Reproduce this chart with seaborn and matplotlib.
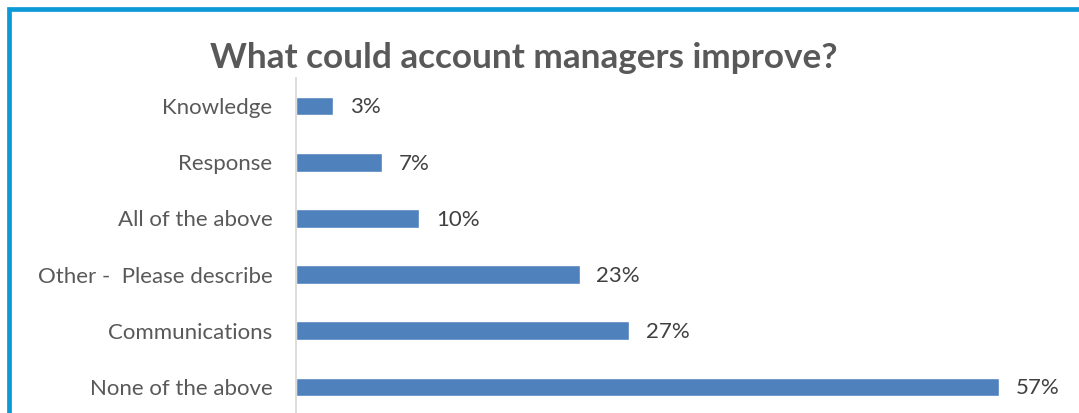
import matplotlib
matplotlib.use("Agg")
import matplotlib.pyplot as plt
import seaborn as sns
import pandas as pd
from matplotlib.patches import Rectangle

categories = ["Knowledge", "Response", "All of the above",
              "Other -  Please describe", "Communications", "None of the above"]
shares = [3, 7, 10, 23, 27, 57]
value_labels = ["3%", "7%", "10%", "23%", "27%", "57%"]
title = "What could account managers improve?"

sns.set_theme(style="white")
plt.rcParams["font.family"] = ["Lato", "DejaVu Sans"]

W, H = 1079, 413
fig = plt.figure(figsize=(W / 100, H / 100), dpi=100)
fig.patch.set_facecolor("white")

# blue frame around the chart area (extends past the right and bottom edges)
frame = Rectangle((9 / W, -0.2), 1.5, 1.2 - 9 / H,
                  transform=fig.transFigure, fill=False,
                  edgecolor="#0C9AD6", linewidth=3.4, zorder=0)
fig.patches.append(frame)

ax = fig.add_axes([296 / W, -2 / H, (1036 - 296) / W, (415 - 78) / H])
df = pd.DataFrame({"category": categories, "share": shares})
sns.barplot(data=df, x="share", y="category", order=categories,
            color="#4F81BD", saturation=1, width=0.33, ax=ax, orient="h")

ax.set_xlim(0, 60)
ax.set_xlabel("")
ax.set_ylabel("")
ax.set_xticks([])
ax.tick_params(axis="y", length=0, pad=17, labelsize=16, labelcolor="#595959")
for s in ["top", "right", "bottom"]:
    ax.spines[s].set_visible(False)
ax.spines["left"].set_color("#D9D9D9")
ax.spines["left"].set_linewidth(1.3)

for i, (v, lab) in enumerate(zip(shares, value_labels)):
    ax.annotate(lab, xy=(v, i), xytext=(12, -1), textcoords="offset points",
                va="center", ha="left", fontsize=16, color="#404040")

fig.text(0.485, 1 - 58 / H, title, ha="center", va="center",
         fontsize=25.3, fontweight="bold", color="#595959")

fig.savefig("out.png", dpi=100, facecolor="white")
